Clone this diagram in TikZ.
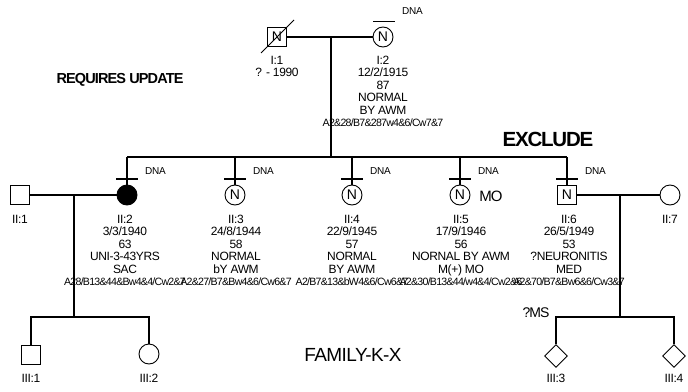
\documentclass[tikz,border=0pt]{standalone}
\usepackage{fontspec}
\setmainfont{Liberation Sans}
\usetikzlibrary{shapes.geometric,calc}
\newcommand{\hla}[1]{{\fontsize{10.6}{12.4}\selectfont\addfontfeature{LetterSpace=-7}#1}}
\begin{document}
\begin{tikzpicture}[x=1pt,y=-1pt,
  every node/.style={inner sep=0pt},
  ln/.style={line width=1.1pt},
  sym/.style={draw,line width=0.9pt,font=\fontsize{14}{14}\selectfont},
  sq/.style={sym,rectangle,minimum size=19pt},
  ci/.style={sym,circle,minimum size=20pt},
  di/.style={sym,diamond,minimum size=23pt},
  lbl/.style={align=center,anchor=north,font=\fontsize{12}{12.4}\selectfont\addfontfeature{LetterSpace=-3}},
  dna/.style={anchor=west,font=\fontsize{10}{10}\selectfont\addfontfeature{LetterSpace=-3}}
]
\useasboundingbox (0,0) rectangle (688,391);
% generation I
\node[sq] (I1) at (277,37) {N};
\node[ci] (I2) at (383,37) {N};
\draw[ln] (I1.east) -- (I2.west);
\draw[line width=0.8pt] ($(I1)+(-16,16)$) -- ($(I1)+(17,-17)$);
\draw[line width=0.9pt] ($(I2.north)+(-10,-5.5)$) -- ($(I2.north)+(12,-5.5)$);
\node[dna] (dI2) at (402,11) {DNA};
\node[lbl] (tI1) at (277,56) {I:1\\? - 1990};
\node[lbl] (tI2) at (383,56) {I:2\\12/2/1915\\87\\NORMAL\\BY AWM\\\hla{A2\&28/B7\&287w4\&6/Cw7\&7}};
\coordinate (m1) at (331,37);
\coordinate (s1) at (331,157);
\draw[ln] (m1) -- (s1);
% free texts
\node[font=\fontsize{14.5}{15}\selectfont\bfseries\addfontfeature{LetterSpace=-6}] (req) at (120,80) {REQUIRES UPDATE};
\node[font=\fontsize{20.5}{21}\selectfont\bfseries\addfontfeature{LetterSpace=-6}] (exc) at (548,139) {EXCLUDE};
\node[font=\fontsize{19}{20}\selectfont\addfontfeature{LetterSpace=-3}] (fam) at (353,355) {FAMILY-K-X};
% generation II
\node[sq] (II1) at (20,195) {};
\node[ci,fill=black] (II2) at (127,195) {};
\node[ci] (II3) at (235,195) {N};
\node[ci] (II4) at (352,195) {N};
\node[ci] (II5) at (460,195) {N};
\node[sq] (II6) at (567,195) {N};
\node[ci] (II7) at (670,195) {};
\coordinate (bar) at (0,179);
\draw[ln] (II2 |- s1) -- (II6 |- s1);
\foreach \c in {II2,II3,II4,II5,II6}{
  \draw[ln] (\c |- s1) -- (\c.north);
  \draw[ln] ($(\c |- bar)+(-11,0)$) -- ($(\c |- bar)+(11,0)$);
  \node[dna] at ($(\c |- bar)+(18,-8)$) {DNA};
}
\node[font=\fontsize{15}{15}\selectfont\addfontfeature{LetterSpace=-7}] (mo) at (491,196) {MO};
\node[lbl] (tII1) at (20,215) {II:1};
\node[lbl] (tII2) at (125,215) {II:2\\3/3/1940\\63\\UNI-3-43YRS\\SAC\\\hla{A28/B13\&44\&Bw4\&4/Cw2\&7}};
\node[lbl] (tII3) at (236,215) {II:3\\24/8/1944\\58\\NORMAL\\bY AWM\\\hla{A2\&27/B7\&Bw4\&6/Cw6\&7}};
\node[lbl] (tII4) at (352,215) {II:4\\22/9/1945\\57\\NORMAL\\BY AWM\\\hla{A2/B7\&13\&bW4\&6/Cw6\&7}};
\node[lbl] (tII5) at (461,215) {II:5\\17/9/1946\\56\\NORNAL BY AWM\\M(+) MO\\\hla{A2\&30/B13\&44/w4\&4/Cw2\&6}};
\node[lbl] (tII6) at (569,215) {II:6\\26/5/1949\\53\\?NEURONITIS\\MED\\\hla{A2\&70/B7\&Bw6\&6/Cw3\&7}};
\node[lbl] (tII7) at (670,215) {II:7};
% II:1 x II:2
\draw[ln] (II1.east) -- (II2.west);
\coordinate (m2) at (74,195);
\coordinate (s2) at (74,317);
\draw[ln] (m2) -- (s2);
\node[sq] (III1) at (31,355) {};
\node[ci] (III2) at (149,354) {};
\draw[ln] (III1.north) -- (III1 |- s2) -- (III2 |- s2) -- (III2.north);
\node[lbl] (tIII1) at (31,374) {III:1};
\node[lbl] (tIII2) at (149,374) {III:2};
% II:6 x II:7
\draw[ln] (II6.east) -- (II7.west);
\coordinate (m3) at (620,195);
\coordinate (s3) at (620,317);
\draw[ln] (m3) -- (s3);
\node[di] (III3) at (556,356) {};
\node[di] (III4) at (674,356) {};
\draw[ln] (III3.north) -- (III3 |- s3) -- (III4 |- s3) -- (III4.north);
\node[lbl] (tIII3) at (556,374) {III:3};
\node[lbl] (tIII4) at (674,374) {III:4};
\node[font=\fontsize{14}{14}\selectfont\addfontfeature{LetterSpace=-7}] (ms) at (536,313) {?MS};
\end{tikzpicture}
\end{document}
